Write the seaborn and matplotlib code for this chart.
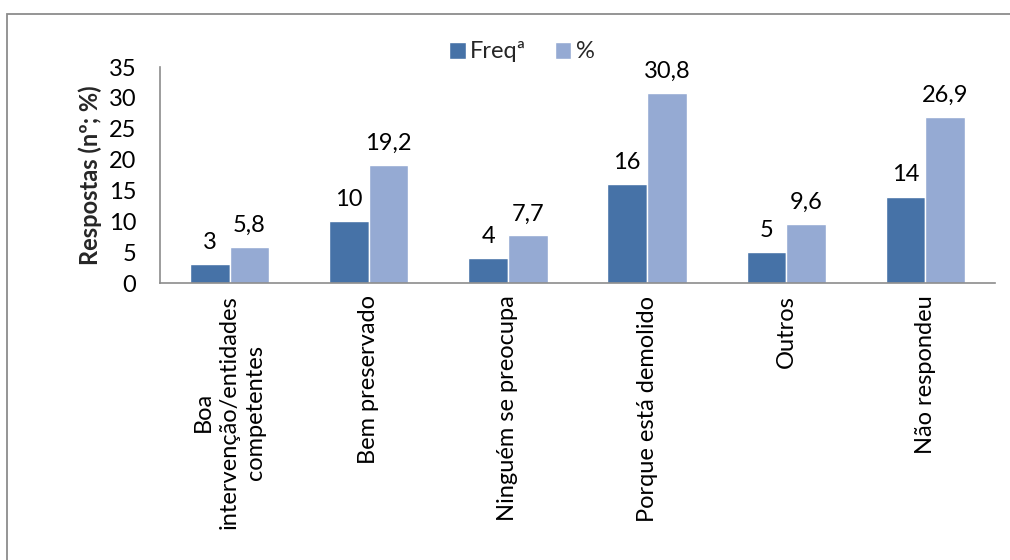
import matplotlib
matplotlib.use("Agg")
import matplotlib.pyplot as plt
from matplotlib.patches import Rectangle
import seaborn as sns
import pandas as pd

categories = [
    "Boa\nintervenção/entidades\ncompetentes",
    "Bem preservado",
    "Ninguém se preocupa",
    "Porque está demolido",
    "Outros",
    "Não respondeu",
]
freq = [3, 10, 4, 16, 5, 14]
pct = [5.8, 19.2, 7.7, 30.8, 9.6, 26.9]
series_names = ["Freqª", "%"]
y_ticks = [0, 5, 10, 15, 20, 25, 30, 35]

df = pd.DataFrame({
    "categoria": categories * 2,
    "valor": freq + pct,
    "serie": [series_names[0]] * len(categories) + [series_names[1]] * len(categories),
})

sns.set_theme(style="white")
plt.rcParams["font.family"] = ["Lato", "DejaVu Sans"]
FS = 17

fig = plt.figure(figsize=(10.1, 5.6), dpi=100)
ax = fig.add_axes([160 / 1010, 1 - 283 / 560, 835 / 1010, 216 / 560])

sns.barplot(
    data=df, x="categoria", y="valor", hue="serie",
    hue_order=series_names, order=categories,
    palette=["#4672A7", "#95AAD3"], width=0.57, gap=0,
    saturation=1, ax=ax, legend=True,
)

for cont in ax.containers:
    ax.bar_label(cont, fmt=lambda v: f"{v:g}".replace(".", ","),
                 padding=8, fontsize=FS, color="black")

ax.set_ylim(0, 35)
ax.set_yticks(y_ticks)
ax.set_xlim(-0.5, len(categories) - 0.5)
ax.tick_params(axis="y", length=0, pad=17, labelsize=FS, colors="black")
ax.tick_params(axis="x", length=0, pad=9, labelsize=FS, colors="black")
for lbl in ax.get_xticklabels():
    lbl.set_rotation(90)
    lbl.set_va("top")
    lbl.set_ha("center")
    lbl.set_multialignment("center")
    lbl.set_linespacing(1.3)

ax.set_xlabel("")
ax.set_ylabel("Respostas (nº; %)", fontsize=FS, fontweight="bold", labelpad=5)

for side in ["top", "right"]:
    ax.spines[side].set_visible(False)
for side in ["left", "bottom"]:
    ax.spines[side].set_color("#8C8C8C")
    ax.spines[side].set_linewidth(1.2)

handles, labels = ax.get_legend_handles_labels()
ax.get_legend().remove()
fig.legend(handles, labels, loc="center", bbox_to_anchor=(522 / 1010, 1 - 52 / 560),
           ncol=2, frameon=False, fontsize=FS, handlelength=0.7, handleheight=0.7,
           handletextpad=0.2, columnspacing=1.2, borderpad=0)

# outer chart frame
fig.patches.append(Rectangle((7 / 1010, -0.2), 1.2, 1.2 - 14 / 560,
                             transform=fig.transFigure, fill=False,
                             edgecolor="#8C8C8C", linewidth=1.3))

fig.savefig("out.png", dpi=100, facecolor="white")
